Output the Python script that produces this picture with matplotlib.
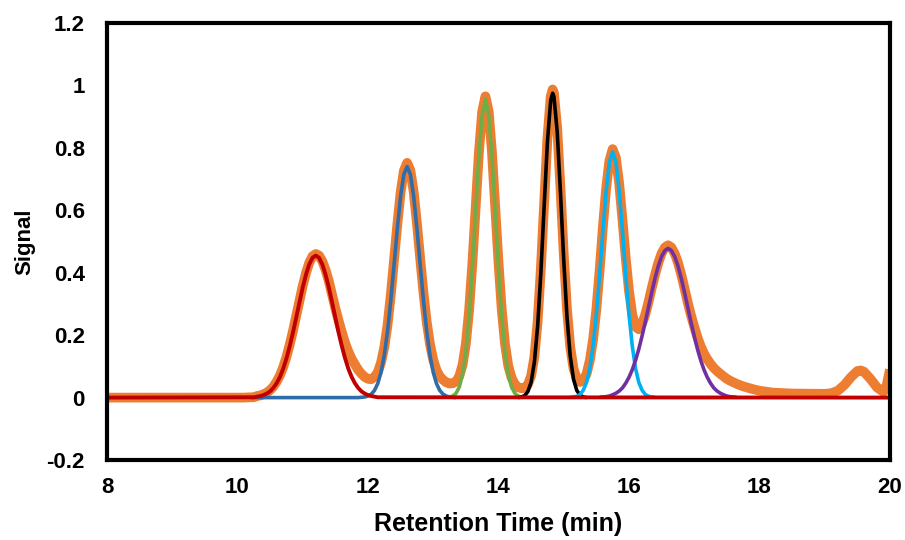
import matplotlib
matplotlib.use("Agg")
import matplotlib.pyplot as plt
from matplotlib.ticker import FixedLocator, FuncFormatter

plt.rcParams['font.family'] = ['Liberation Sans', 'DejaVu Sans']
plt.rcParams['font.weight'] = 'bold'

# measured signal (min, signal)
orange = [
    (8.0, 0.0), (9.0, 0.0), (10.0, 0.0), (10.1, 0.0), (10.2, 0.001), (10.25, 0.001),
    (10.3, 0.005), (10.35, 0.007), (10.4, 0.011), (10.45, 0.016), (10.5, 0.024),
    (10.55, 0.035), (10.6, 0.051), (10.65, 0.071), (10.7, 0.097), (10.75, 0.130),
    (10.8, 0.169), (10.85, 0.213), (10.9, 0.261), (10.95, 0.310), (11.0, 0.358),
    (11.05, 0.399), (11.1, 0.432), (11.15, 0.453), (11.2, 0.460), (11.25, 0.455),
    (11.3, 0.437), (11.35, 0.409), (11.4, 0.373), (11.45, 0.330), (11.5, 0.286),
    (11.55, 0.246), (11.6, 0.209), (11.65, 0.175), (11.7, 0.147), (11.75, 0.124),
    (11.8, 0.106), (11.85, 0.089), (11.9, 0.076), (11.95, 0.066), (12.0, 0.060),
    (12.05, 0.059), (12.1, 0.066), (12.15, 0.081), (12.2, 0.112), (12.25, 0.161),
    (12.3, 0.233), (12.35, 0.329), (12.4, 0.441), (12.45, 0.555), (12.5, 0.657),
    (12.55, 0.727), (12.6, 0.752), (12.65, 0.728), (12.7, 0.660), (12.75, 0.559),
    (12.8, 0.446), (12.85, 0.337), (12.9, 0.243), (12.95, 0.171), (13.0, 0.121),
    (13.05, 0.088), (13.1, 0.068), (13.15, 0.057), (13.2, 0.049), (13.25, 0.045),
    (13.3, 0.046), (13.35, 0.051), (13.4, 0.069), (13.45, 0.105), (13.5, 0.172),
    (13.55, 0.280), (13.6, 0.430), (13.65, 0.610), (13.7, 0.785), (13.75, 0.916),
    (13.8, 0.965), (13.85, 0.917), (13.9, 0.787), (13.95, 0.613), (14.0, 0.435),
    (14.05, 0.282), (14.1, 0.172), (14.15, 0.102), (14.2, 0.064), (14.25, 0.043),
    (14.3, 0.033), (14.35, 0.030), (14.4, 0.031), (14.45, 0.041), (14.5, 0.069),
    (14.55, 0.130), (14.6, 0.243), (14.65, 0.414), (14.7, 0.625), (14.75, 0.830),
    (14.8, 0.964), (14.83, 0.987), (14.85, 0.976), (14.9, 0.864), (14.95, 0.672),
    (15.0, 0.461), (15.05, 0.283), (15.1, 0.162), (15.15, 0.093), (15.2, 0.060),
    (15.25, 0.050), (15.3, 0.056), (15.35, 0.076), (15.4, 0.119), (15.45, 0.186),
    (15.5, 0.282), (15.55, 0.407), (15.6, 0.546), (15.65, 0.670), (15.7, 0.759),
    (15.75, 0.796), (15.8, 0.768), (15.85, 0.686), (15.9, 0.570), (15.95, 0.448),
    (16.0, 0.342), (16.05, 0.267), (16.1, 0.227), (16.15, 0.219), (16.2, 0.236),
    (16.25, 0.266), (16.3, 0.307), (16.35, 0.352), (16.4, 0.394), (16.45, 0.432),
    (16.5, 0.462), (16.55, 0.481), (16.6, 0.488), (16.65, 0.481), (16.7, 0.462),
    (16.75, 0.433), (16.8, 0.395), (16.85, 0.351), (16.9, 0.305), (16.95, 0.264),
    (17.0, 0.227), (17.05, 0.193), (17.1, 0.164), (17.15, 0.141), (17.2, 0.123),
    (17.25, 0.108), (17.3, 0.095), (17.35, 0.085), (17.4, 0.076), (17.45, 0.068),
    (17.5, 0.060), (17.55, 0.054), (17.6, 0.049), (17.65, 0.044), (17.7, 0.040),
    (17.75, 0.036), (17.8, 0.033), (17.9, 0.027), (18.0, 0.022), (18.2, 0.016),
    (18.5, 0.013), (19.0, 0.012), (19.1, 0.014), (19.2, 0.022), (19.3, 0.040),
    (19.4, 0.065), (19.5, 0.085), (19.55, 0.087), (19.6, 0.083), (19.7, 0.060),
    (19.8, 0.033), (19.9, 0.018), (19.95, 0.040), (20.0, 0.090),
]

# fitted peaks
peak1 = [
    (8.0, 0.0), (10.2, 0.001), (10.25, 0.001), (10.3, 0.003), (10.35, 0.005),
    (10.4, 0.008), (10.45, 0.013), (10.5, 0.020), (10.55, 0.031), (10.6, 0.046),
    (10.65, 0.066), (10.7, 0.092), (10.75, 0.125), (10.8, 0.164), (10.85, 0.208),
    (10.9, 0.256), (10.95, 0.305), (11.0, 0.353), (11.05, 0.394), (11.1, 0.427),
    (11.15, 0.448), (11.2, 0.455), (11.25, 0.448), (11.3, 0.427), (11.35, 0.394),
    (11.4, 0.353), (11.45, 0.305), (11.5, 0.256), (11.55, 0.208), (11.6, 0.164),
    (11.65, 0.125), (11.7, 0.092), (11.75, 0.066), (11.8, 0.046), (11.85, 0.031),
    (11.9, 0.020), (11.95, 0.013), (12.0, 0.008), (12.05, 0.005), (12.1, 0.003),
    (12.15, 0.001), (12.2, 0.001), (20.0, 0.0),
]
peak2 = [
    (10.2, 0.0), (11.85, 0.0), (11.9, 0.001), (11.95, 0.002), (12.0, 0.005),
    (12.05, 0.011), (12.1, 0.023), (12.15, 0.045), (12.2, 0.081), (12.25, 0.136),
    (12.3, 0.213), (12.35, 0.312), (12.4, 0.426), (12.45, 0.542), (12.5, 0.645),
    (12.55, 0.715), (12.6, 0.740), (12.65, 0.715), (12.7, 0.645), (12.75, 0.542),
    (12.8, 0.426), (12.85, 0.312), (12.9, 0.213), (12.95, 0.136), (13.0, 0.081),
    (13.05, 0.045), (13.1, 0.023), (13.15, 0.011), (13.2, 0.005), (13.25, 0.002),
    (13.3, 0.001), (13.35, 0.0),
]
peak3 = [
    (13.2, 0.001), (13.25, 0.002), (13.3, 0.005), (13.35, 0.014), (13.4, 0.034),
    (13.45, 0.075), (13.5, 0.147), (13.55, 0.260), (13.6, 0.415), (13.65, 0.598),
    (13.7, 0.775), (13.75, 0.906), (13.8, 0.955), (13.85, 0.906), (13.9, 0.775),
    (13.95, 0.598), (14.0, 0.415), (14.05, 0.260), (14.1, 0.147), (14.15, 0.075),
    (14.2, 0.034), (14.25, 0.014), (14.3, 0.005), (14.35, 0.002), (14.4, 0.001),
]
peak4 = [
    (14.3, 0.0), (14.35, 0.002), (14.4, 0.006), (14.45, 0.019), (14.5, 0.049),
    (14.55, 0.113), (14.6, 0.228), (14.65, 0.401), (14.7, 0.613), (14.75, 0.818),
    (14.8, 0.952), (14.83, 0.975), (14.85, 0.964), (14.9, 0.852), (14.95, 0.657),
    (15.0, 0.441), (15.05, 0.258), (15.1, 0.132), (15.15, 0.059), (15.2, 0.023),
    (15.25, 0.008), (15.3, 0.002), (15.35, 0.0),
]
peak5 = [
    (15.1, 0.001), (15.15, 0.002), (15.2, 0.004), (15.25, 0.010), (15.3, 0.024),
    (15.35, 0.049), (15.4, 0.094), (15.45, 0.166), (15.5, 0.267), (15.55, 0.394),
    (15.6, 0.534), (15.65, 0.662), (15.7, 0.754), (15.75, 0.787), (15.8, 0.754),
    (15.85, 0.662), (15.9, 0.534), (15.95, 0.394), (16.0, 0.267), (16.05, 0.166),
    (16.1, 0.094), (16.15, 0.049), (16.2, 0.024), (16.25, 0.010), (16.3, 0.004),
    (16.35, 0.002), (16.4, 0.001),
]
peak6 = [
    (15.55, 0.001), (15.6, 0.002), (15.65, 0.003), (15.7, 0.005), (15.75, 0.009),
    (15.8, 0.014), (15.85, 0.021), (15.9, 0.031), (15.95, 0.046), (16.0, 0.065),
    (16.05, 0.089), (16.1, 0.119), (16.15, 0.155), (16.2, 0.197), (16.25, 0.242),
    (16.3, 0.290), (16.35, 0.338), (16.4, 0.383), (16.45, 0.422), (16.5, 0.452),
    (16.55, 0.471), (16.6, 0.478), (16.65, 0.471), (16.7, 0.452), (16.75, 0.422),
    (16.8, 0.383), (16.85, 0.338), (16.9, 0.290), (16.95, 0.242), (17.0, 0.197),
    (17.05, 0.155), (17.1, 0.119), (17.15, 0.089), (17.2, 0.065), (17.25, 0.046),
    (17.3, 0.031), (17.35, 0.021), (17.4, 0.014), (17.45, 0.009), (17.5, 0.005),
    (17.55, 0.003), (17.6, 0.002), (17.65, 0.001),
]

x_ticks = [8, 10, 12, 14, 16, 18, 20]
y_ticks = [-0.2, 0, 0.2, 0.4, 0.6, 0.8, 1, 1.2]

fig = plt.figure(figsize=(9.05, 5.4), dpi=100)
ax = fig.add_axes([0.1182, 0.1481, 0.8652, 0.8093])

def draw(data, color, lw, z):
    t, s = zip(*data)
    ax.plot(t, s, color=color, lw=lw, zorder=z, solid_capstyle='butt')

draw(orange, '#ED7D31', 7, 2)
draw(peak2, '#2E6DAA', 2.6, 3)
draw(peak3, '#70AD47', 2.6, 3)
draw(peak4, '#000000', 2.6, 3)
draw(peak5, '#00B0F0', 2.6, 3)
draw(peak6, '#7030A0', 2.6, 3)
draw(peak1, '#C00000', 2.8, 4)

ax.set_xlim(8, 20)
ax.set_ylim(-0.2, 1.2)
ax.xaxis.set_major_locator(FixedLocator(x_ticks))
ax.yaxis.set_major_locator(FixedLocator(y_ticks))
ax.yaxis.set_major_formatter(FuncFormatter(lambda v, p: f"{v:g}"))
ax.tick_params(axis='both', length=0, labelsize=16)
ax.tick_params(axis='y', pad=16)
ax.tick_params(axis='x', pad=12)
for sp in ax.spines.values():
    sp.set_linewidth(3)
    sp.set_zorder(5)

ax.set_xlabel('Retention Time (min)', fontsize=18, fontweight='bold', labelpad=10)
ax.set_ylabel('Signal', fontsize=16, fontweight='bold', labelpad=8)

fig.savefig('out.png', dpi=100)
